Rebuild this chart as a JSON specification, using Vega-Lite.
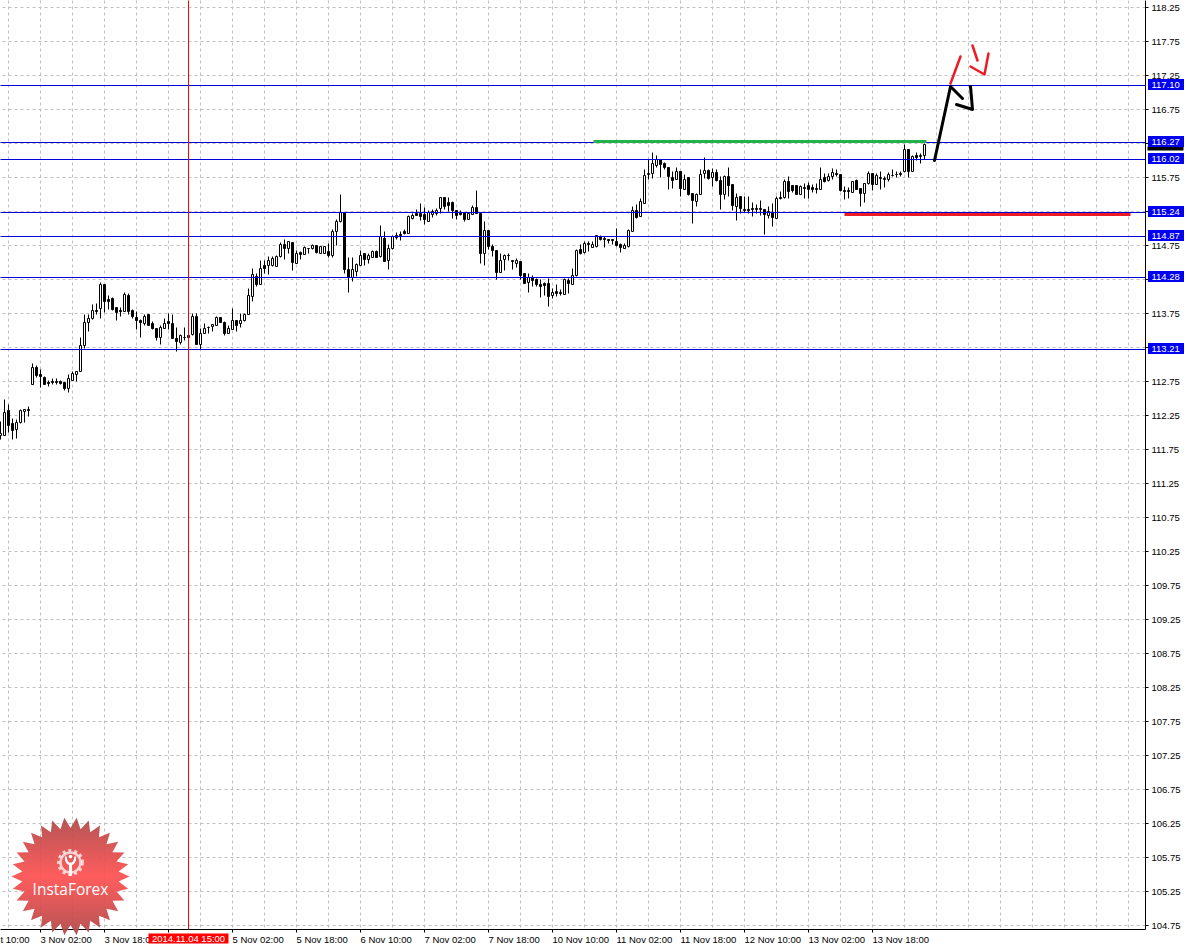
{"$schema":"https://vega.github.io/schema/vega-lite/v6.json","width":1145,"height":929,"autosize":{"type":"none"},"padding":{"left":0.5,"top":0.5,"right":41.5,"bottom":17.5},"background":"white","config":{"view":{"stroke":null}},
"datasets":{
"candles":[
{"bar":0,"open":111.95,"high":112.16,"low":111.89,"close":111.98},
{"bar":1,"open":111.96,"high":112.49,"low":111.95,"close":112.3},
{"bar":2,"open":112.32,"high":112.41,"low":112.0,"close":112.1},
{"bar":3,"open":112.13,"high":112.2,"low":111.89,"close":112.03},
{"bar":4,"open":112.05,"high":112.185,"low":111.915,"close":112.15},
{"bar":5,"open":112.15,"high":112.34,"low":112.13,"close":112.33},
{"bar":6,"open":112.31,"high":112.34,"low":112.15,"close":112.34},
{"bar":7,"open":112.34,"high":112.38,"low":112.23,"close":112.33},
{"bar":8,"open":112.7,"high":113.01,"low":112.7,"close":112.96},
{"bar":9,"open":112.96,"high":112.98,"low":112.81,"close":112.84},
{"bar":10,"open":112.85,"high":112.93,"low":112.66,"close":112.82},
{"bar":11,"open":112.81,"high":112.82,"low":112.7,"close":112.71},
{"bar":12,"open":112.74,"high":112.77,"low":112.675,"close":112.72},
{"bar":13,"open":112.75,"high":112.8,"low":112.7,"close":112.73},
{"bar":14,"open":112.75,"high":112.79,"low":112.7,"close":112.74},
{"bar":15,"open":112.75,"high":112.77,"low":112.7,"close":112.72},
{"bar":16,"open":112.74,"high":112.74,"low":112.62,"close":112.64},
{"bar":17,"open":112.65,"high":112.86,"low":112.59,"close":112.79},
{"bar":18,"open":112.76,"high":112.9,"low":112.76,"close":112.87},
{"bar":19,"open":112.86,"high":112.9,"low":112.75,"close":112.9},
{"bar":20,"open":112.9,"high":113.4,"low":112.9,"close":113.28},
{"bar":21,"open":113.28,"high":113.73,"low":113.23,"close":113.62},
{"bar":22,"open":113.62,"high":113.74,"low":113.48,"close":113.68},
{"bar":23,"open":113.675,"high":113.875,"low":113.655,"close":113.8},
{"bar":24,"open":113.79,"high":113.9,"low":113.73,"close":113.78},
{"bar":25,"open":113.82,"high":114.21,"low":113.68,"close":114.18},
{"bar":26,"open":114.18,"high":114.18,"low":113.76,"close":113.925},
{"bar":27,"open":113.95,"high":114.01,"low":113.81,"close":113.93},
{"bar":28,"open":113.965,"high":113.99,"low":113.8,"close":113.81},
{"bar":29,"open":113.84,"high":113.84,"low":113.645,"close":113.76},
{"bar":30,"open":113.79,"high":113.84,"low":113.7,"close":113.78},
{"bar":31,"open":113.78,"high":114.06,"low":113.78,"close":114.03},
{"bar":32,"open":114.02,"high":114.05,"low":113.74,"close":113.78},
{"bar":33,"open":113.79,"high":113.81,"low":113.68,"close":113.7},
{"bar":34,"open":113.69,"high":113.78,"low":113.52,"close":113.645},
{"bar":35,"open":113.65,"high":113.665,"low":113.4,"close":113.62},
{"bar":36,"open":113.61,"high":113.73,"low":113.58,"close":113.71},
{"bar":37,"open":113.73,"high":113.73,"low":113.58,"close":113.58},
{"bar":38,"open":113.6,"high":113.63,"low":113.51,"close":113.53},
{"bar":39,"open":113.53,"high":113.53,"low":113.36,"close":113.39},
{"bar":40,"open":113.395,"high":113.57,"low":113.29,"close":113.55},
{"bar":41,"open":113.53,"high":113.68,"low":113.53,"close":113.6},
{"bar":42,"open":113.625,"high":113.75,"low":113.51,"close":113.605},
{"bar":43,"open":113.605,"high":113.73,"low":113.38,"close":113.38},
{"bar":44,"open":113.375,"high":113.55,"low":113.19,"close":113.34},
{"bar":45,"open":113.32,"high":113.435,"low":113.3,"close":113.42},
{"bar":46,"open":113.395,"high":113.54,"low":113.36,"close":113.39},
{"bar":47,"open":113.43,"high":113.43,"low":113.39,"close":113.39},
{"bar":48,"open":113.435,"high":113.75,"low":113.42,"close":113.71},
{"bar":49,"open":113.7,"high":113.75,"low":113.29,"close":113.3},
{"bar":50,"open":113.29,"high":113.53,"low":113.22,"close":113.46},
{"bar":51,"open":113.455,"high":113.61,"low":113.455,"close":113.53},
{"bar":52,"open":113.545,"high":113.56,"low":113.45,"close":113.55},
{"bar":53,"open":113.56,"high":113.59,"low":113.48,"close":113.59},
{"bar":54,"open":113.58,"high":113.7,"low":113.57,"close":113.695},
{"bar":55,"open":113.685,"high":113.685,"low":113.615,"close":113.615},
{"bar":56,"open":113.615,"high":113.63,"low":113.43,"close":113.46},
{"bar":57,"open":113.45,"high":113.58,"low":113.45,"close":113.53},
{"bar":58,"open":113.52,"high":113.82,"low":113.51,"close":113.645},
{"bar":59,"open":113.65,"high":113.65,"low":113.48,"close":113.58},
{"bar":60,"open":113.6,"high":113.75,"low":113.55,"close":113.65},
{"bar":61,"open":113.645,"high":113.75,"low":113.63,"close":113.73},
{"bar":62,"open":113.74,"high":114.12,"low":113.73,"close":114.02},
{"bar":63,"open":114.0,"high":114.41,"low":113.93,"close":114.32},
{"bar":64,"open":114.3,"high":114.34,"low":114.15,"close":114.17},
{"bar":65,"open":114.18,"high":114.535,"low":114.18,"close":114.41},
{"bar":66,"open":114.45,"high":114.535,"low":114.34,"close":114.41},
{"bar":67,"open":114.45,"high":114.585,"low":114.325,"close":114.535},
{"bar":68,"open":114.45,"high":114.585,"low":114.44,"close":114.56},
{"bar":69,"open":114.44,"high":114.6,"low":114.44,"close":114.585},
{"bar":70,"open":114.585,"high":114.8,"low":114.58,"close":114.77},
{"bar":71,"open":114.76,"high":114.84,"low":114.55,"close":114.71},
{"bar":72,"open":114.7,"high":114.815,"low":114.63,"close":114.81},
{"bar":73,"open":114.8,"high":114.8,"low":114.38,"close":114.5},
{"bar":74,"open":114.49,"high":114.68,"low":114.48,"close":114.625},
{"bar":75,"open":114.645,"high":114.66,"low":114.54,"close":114.615},
{"bar":76,"open":114.615,"high":114.73,"low":114.615,"close":114.715},
{"bar":77,"open":114.705,"high":114.71,"low":114.625,"close":114.7},
{"bar":78,"open":114.705,"high":114.76,"low":114.695,"close":114.75},
{"bar":79,"open":114.75,"high":114.75,"low":114.635,"close":114.645},
{"bar":80,"open":114.635,"high":114.74,"low":114.625,"close":114.73},
{"bar":81,"open":114.635,"high":114.74,"low":114.63,"close":114.735},
{"bar":82,"open":114.655,"high":114.78,"low":114.575,"close":114.605},
{"bar":83,"open":114.6,"high":114.98,"low":114.58,"close":114.95},
{"bar":84,"open":114.955,"high":115.135,"low":114.745,"close":115.1},
{"bar":85,"open":115.1,"high":115.5,"low":115.09,"close":115.24},
{"bar":86,"open":115.24,"high":115.24,"low":114.34,"close":114.39},
{"bar":87,"open":114.39,"high":114.58,"low":114.06,"close":114.28},
{"bar":88,"open":114.28,"high":114.58,"low":114.22,"close":114.39},
{"bar":89,"open":114.365,"high":114.49,"low":114.3,"close":114.465},
{"bar":90,"open":114.455,"high":114.68,"low":114.45,"close":114.61},
{"bar":91,"open":114.625,"high":114.625,"low":114.45,"close":114.55},
{"bar":92,"open":114.54,"high":114.635,"low":114.49,"close":114.6},
{"bar":93,"open":114.58,"high":114.675,"low":114.575,"close":114.655},
{"bar":94,"open":114.655,"high":114.675,"low":114.575,"close":114.575},
{"bar":95,"open":114.585,"high":115.04,"low":114.575,"close":114.875},
{"bar":96,"open":114.86,"high":114.955,"low":114.52,"close":114.52},
{"bar":97,"open":114.53,"high":114.76,"low":114.39,"close":114.71},
{"bar":98,"open":114.7,"high":114.9,"low":114.695,"close":114.88},
{"bar":99,"open":114.89,"high":114.94,"low":114.84,"close":114.87},
{"bar":100,"open":114.91,"high":114.95,"low":114.83,"close":114.89},
{"bar":101,"open":114.955,"high":114.98,"low":114.905,"close":114.925},
{"bar":102,"open":114.92,"high":115.185,"low":114.92,"close":115.17},
{"bar":103,"open":115.14,"high":115.22,"low":115.125,"close":115.185},
{"bar":104,"open":115.215,"high":115.28,"low":115.185,"close":115.195},
{"bar":105,"open":115.215,"high":115.37,"low":115.115,"close":115.175},
{"bar":106,"open":115.205,"high":115.31,"low":115.065,"close":115.125},
{"bar":107,"open":115.11,"high":115.27,"low":115.1,"close":115.23},
{"bar":108,"open":115.205,"high":115.28,"low":115.155,"close":115.245},
{"bar":109,"open":115.225,"high":115.295,"low":115.185,"close":115.27},
{"bar":110,"open":115.29,"high":115.46,"low":115.225,"close":115.45},
{"bar":111,"open":115.46,"high":115.46,"low":115.28,"close":115.33},
{"bar":112,"open":115.375,"high":115.46,"low":115.25,"close":115.34},
{"bar":113,"open":115.38,"high":115.395,"low":115.15,"close":115.26},
{"bar":114,"open":115.26,"high":115.27,"low":115.125,"close":115.195},
{"bar":115,"open":115.24,"high":115.26,"low":115.185,"close":115.2},
{"bar":116,"open":115.23,"high":115.24,"low":115.11,"close":115.135},
{"bar":117,"open":115.125,"high":115.225,"low":115.125,"close":115.215},
{"bar":118,"open":115.205,"high":115.345,"low":115.2,"close":115.31},
{"bar":119,"open":115.31,"high":115.565,"low":115.22,"close":115.225},
{"bar":120,"open":115.22,"high":115.22,"low":114.49,"close":114.625},
{"bar":121,"open":114.625,"high":115.1,"low":114.46,"close":114.965},
{"bar":122,"open":114.965,"high":114.965,"low":114.685,"close":114.73},
{"bar":123,"open":114.73,"high":114.76,"low":114.585,"close":114.675},
{"bar":124,"open":114.67,"high":114.67,"low":114.245,"close":114.36},
{"bar":125,"open":114.35,"high":114.635,"low":114.35,"close":114.535},
{"bar":126,"open":114.55,"high":114.615,"low":114.38,"close":114.605},
{"bar":127,"open":114.6,"high":114.625,"low":114.535,"close":114.605},
{"bar":128,"open":114.525,"high":114.535,"low":114.4,"close":114.51},
{"bar":129,"open":114.49,"high":114.56,"low":114.43,"close":114.535},
{"bar":130,"open":114.52,"high":114.52,"low":114.245,"close":114.315},
{"bar":131,"open":114.34,"high":114.34,"low":114.185,"close":114.195},
{"bar":132,"open":114.205,"high":114.34,"low":114.055,"close":114.28},
{"bar":133,"open":114.28,"high":114.315,"low":114.145,"close":114.235},
{"bar":134,"open":114.25,"high":114.27,"low":114.145,"close":114.17},
{"bar":135,"open":114.17,"high":114.245,"low":113.99,"close":114.145},
{"bar":136,"open":114.185,"high":114.205,"low":114.02,"close":114.155},
{"bar":137,"open":114.185,"high":114.27,"low":113.86,"close":114.0},
{"bar":138,"open":114.01,"high":114.12,"low":113.975,"close":114.06},
{"bar":139,"open":114.08,"high":114.17,"low":114.0,"close":114.045},
{"bar":140,"open":114.065,"high":114.1,"low":114.01,"close":114.045},
{"bar":141,"open":114.025,"high":114.27,"low":114.025,"close":114.245},
{"bar":142,"open":114.235,"high":114.27,"low":114.05,"close":114.195},
{"bar":143,"open":114.175,"high":114.415,"low":114.17,"close":114.31},
{"bar":144,"open":114.315,"high":114.685,"low":114.29,"close":114.67},
{"bar":145,"open":114.685,"high":114.76,"low":114.615,"close":114.63},
{"bar":146,"open":114.64,"high":114.81,"low":114.63,"close":114.785},
{"bar":147,"open":114.775,"high":114.81,"low":114.66,"close":114.76},
{"bar":148,"open":114.725,"high":114.81,"low":114.725,"close":114.76},
{"bar":149,"open":114.735,"high":114.9,"low":114.725,"close":114.9},
{"bar":150,"open":114.88,"high":114.9,"low":114.825,"close":114.835},
{"bar":151,"open":114.86,"high":114.875,"low":114.725,"close":114.835},
{"bar":152,"open":114.84,"high":114.845,"low":114.775,"close":114.83},
{"bar":153,"open":114.835,"high":114.835,"low":114.76,"close":114.83},
{"bar":154,"open":114.815,"high":115.005,"low":114.735,"close":114.755},
{"bar":155,"open":114.76,"high":114.785,"low":114.64,"close":114.72},
{"bar":156,"open":114.705,"high":114.775,"low":114.705,"close":114.755},
{"bar":157,"open":114.73,"high":114.99,"low":114.725,"close":114.975},
{"bar":158,"open":114.955,"high":115.324,"low":114.95,"close":115.27},
{"bar":159,"open":115.26,"high":115.35,"low":115.15,"close":115.16},
{"bar":160,"open":115.17,"high":115.445,"low":115.17,"close":115.39},
{"bar":161,"open":115.37,"high":115.865,"low":115.365,"close":115.785},
{"bar":162,"open":115.8,"high":116.02,"low":115.715,"close":115.805},
{"bar":163,"open":115.81,"high":116.12,"low":115.74,"close":115.95},
{"bar":164,"open":115.93,"high":116.07,"low":115.9,"close":116.01},
{"bar":165,"open":116.01,"high":116.02,"low":115.755,"close":115.94},
{"bar":166,"open":115.96,"high":115.97,"low":115.87,"close":115.9},
{"bar":167,"open":115.89,"high":115.9,"low":115.58,"close":115.765},
{"bar":168,"open":115.755,"high":115.84,"low":115.595,"close":115.705},
{"bar":169,"open":115.72,"high":115.89,"low":115.716,"close":115.835},
{"bar":170,"open":115.845,"high":115.845,"low":115.47,"close":115.595},
{"bar":171,"open":115.58,"high":115.79,"low":115.57,"close":115.725},
{"bar":172,"open":115.75,"high":115.75,"low":115.48,"close":115.495},
{"bar":173,"open":115.52,"high":115.52,"low":115.08,"close":115.41},
{"bar":174,"open":115.4,"high":115.52,"low":115.325,"close":115.495},
{"bar":175,"open":115.505,"high":115.865,"low":115.495,"close":115.8},
{"bar":176,"open":115.815,"high":116.04,"low":115.74,"close":115.85},
{"bar":177,"open":115.85,"high":115.865,"low":115.715,"close":115.74},
{"bar":178,"open":115.75,"high":115.885,"low":115.62,"close":115.83},
{"bar":179,"open":115.83,"high":115.87,"low":115.69,"close":115.705},
{"bar":180,"open":115.7,"high":115.765,"low":115.275,"close":115.495},
{"bar":181,"open":115.495,"high":115.775,"low":115.43,"close":115.765},
{"bar":182,"open":115.76,"high":115.9,"low":115.47,"close":115.63},
{"bar":183,"open":115.645,"high":115.645,"low":115.265,"close":115.335},
{"bar":184,"open":115.325,"high":115.52,"low":115.12,"close":115.45},
{"bar":185,"open":115.465,"high":115.465,"low":115.215,"close":115.3},
{"bar":186,"open":115.285,"high":115.47,"low":115.235,"close":115.27},
{"bar":187,"open":115.285,"high":115.47,"low":115.215,"close":115.265},
{"bar":188,"open":115.295,"high":115.383,"low":115.18,"close":115.285},
{"bar":189,"open":115.3,"high":115.35,"low":115.215,"close":115.275},
{"bar":190,"open":115.3,"high":115.41,"low":115.19,"close":115.285},
{"bar":191,"open":115.285,"high":115.285,"low":114.91,"close":115.21},
{"bar":192,"open":115.19,"high":115.32,"low":115.14,"close":115.245},
{"bar":193,"open":115.235,"high":115.37,"low":115.03,"close":115.16},
{"bar":194,"open":115.145,"high":115.47,"low":115.14,"close":115.445},
{"bar":195,"open":115.455,"high":115.55,"low":115.43,"close":115.44},
{"bar":196,"open":115.455,"high":115.715,"low":115.445,"close":115.69},
{"bar":197,"open":115.685,"high":115.765,"low":115.445,"close":115.545},
{"bar":198,"open":115.625,"high":115.625,"low":115.535,"close":115.56},
{"bar":199,"open":115.625,"high":115.625,"low":115.495,"close":115.5},
{"bar":200,"open":115.505,"high":115.625,"low":115.5,"close":115.62},
{"bar":201,"open":115.61,"high":115.665,"low":115.445,"close":115.595},
{"bar":202,"open":115.625,"high":115.675,"low":115.445,"close":115.57},
{"bar":203,"open":115.6,"high":115.645,"low":115.53,"close":115.58},
{"bar":204,"open":115.595,"high":115.665,"low":115.52,"close":115.58},
{"bar":205,"open":115.58,"high":115.89,"low":115.57,"close":115.725},
{"bar":206,"open":115.745,"high":115.805,"low":115.675,"close":115.685},
{"bar":207,"open":115.705,"high":115.805,"low":115.69,"close":115.76},
{"bar":208,"open":115.76,"high":115.885,"low":115.715,"close":115.825},
{"bar":209,"open":115.815,"high":115.87,"low":115.765,"close":115.8},
{"bar":210,"open":115.79,"high":115.79,"low":115.545,"close":115.56},
{"bar":211,"open":115.555,"high":115.62,"low":115.43,"close":115.545},
{"bar":212,"open":115.555,"high":115.61,"low":115.445,"close":115.54},
{"bar":213,"open":115.53,"high":115.69,"low":115.53,"close":115.69},
{"bar":214,"open":115.7,"high":115.716,"low":115.57,"close":115.58},
{"bar":215,"open":115.59,"high":115.59,"low":115.325,"close":115.51},
{"bar":216,"open":115.51,"high":115.667,"low":115.383,"close":115.657},
{"bar":217,"open":115.657,"high":115.84,"low":115.65,"close":115.815},
{"bar":218,"open":115.805,"high":115.805,"low":115.555,"close":115.64},
{"bar":219,"open":115.64,"high":115.815,"low":115.64,"close":115.775},
{"bar":220,"open":115.755,"high":115.84,"low":115.58,"close":115.73},
{"bar":221,"open":115.74,"high":115.765,"low":115.61,"close":115.725},
{"bar":222,"open":115.715,"high":115.82,"low":115.69,"close":115.8},
{"bar":223,"open":115.78,"high":115.865,"low":115.765,"close":115.785},
{"bar":224,"open":115.79,"high":115.84,"low":115.755,"close":115.795},
{"bar":225,"open":115.805,"high":115.84,"low":115.765,"close":115.795},
{"bar":226,"open":115.84,"high":116.23,"low":115.83,"close":116.16},
{"bar":227,"open":116.16,"high":116.16,"low":115.755,"close":115.84},
{"bar":228,"open":115.84,"high":116.07,"low":115.84,"close":116.06},
{"bar":229,"open":116.07,"high":116.12,"low":116.0,"close":116.05},
{"bar":230,"open":116.065,"high":116.1,"low":115.96,"close":116.07},
{"bar":231,"open":116.08,"high":116.255,"low":116.02,"close":116.24}
],
"levels":[{"price":117.1,"label":"117.10"},{"price":116.27,"label":"116.27"},{"price":116.02,"label":"116.02"},{"price":115.24,"label":"115.24"},{"price":114.88,"label":"114.87"},{"price":114.28,"label":"114.28"},{"price":113.215,"label":"113.21"}],
"blackPath":[
{"path":"a","seq":1,"bar":233.45,"price":116.007},{"path":"a","seq":2,"bar":237.6,"price":117.094},{"path":"a","seq":3,"bar":240.45,"price":116.913},
{"path":"b","seq":1,"bar":242.55,"price":117.09},{"path":"b","seq":2,"bar":242.95,"price":116.756},{"path":"b","seq":3,"bar":239.05,"price":116.83}],
"redPath":[
{"path":"a","seq":1,"bar":237.6,"price":117.133},{"path":"a","seq":2,"bar":240.05,"price":117.535},
{"path":"b","seq":1,"bar":242.9,"price":117.696},{"path":"b","seq":2,"bar":244.2,"price":117.465},
{"path":"c","seq":1,"bar":242.55,"price":117.388},{"path":"c","seq":2,"bar":245.9,"price":117.27},{"path":"c","seq":3,"bar":246.9,"price":117.574}],
"logo":[{"bar":17.5,"price":105.47,"name":"InstaForex"}],
"gear":[{"bar":17.4,"price":105.68}]
},
"layer":[
{"data":{"name":"candles"},"mark":{"type":"rule","color":"black","strokeWidth":1},"encoding":{
"x":{"field":"bar","type":"quantitative","title":null,"scale":{"domain":[0,286.25],"round":true,"nice":false,"zero":false,"padding":0},
"axis":{"orient":"bottom","translate":0,"title":null,"tickCount":200,"values":[0,2,10,18,26,34,42,50,58,66,74,82,90,98,106,114,122,130,138,146,154,162,170,178,186,194,202,210,218,226,234,242,250,258,266,274,282],
"labelExpr":"{'0':'t 10:00','10':'3 Nov 02:00','26':'3 Nov 18:00','58':'5 Nov 02:00','74':'5 Nov 18:00','90':'6 Nov 10:00','106':'7 Nov 02:00','122':'7 Nov 18:00','138':'10 Nov 10:00','154':'11 Nov 02:00','170':'11 Nov 18:00','186':'12 Nov 10:00','202':'13 Nov 02:00','218':'13 Nov 18:00'}[''+datum.value] || ''",
"labelOverlap":false,"labelBound":false,"labelFlush":false,"labelAlign":"left","labelBaseline":"top","labelPadding":2,"labelFont":"Liberation Sans","labelFontSize":9.5,"labelColor":"black","tickSize":3,"tickColor":"black",
"tickOpacity":{"condition":{"test":"datum.value>0 && datum.value<=218 && (datum.value-10)%16==0","value":1},"value":0},
"domainColor":"black","domainWidth":1,"grid":true,"gridColor":"#c0c0c0","gridDash":[3,3],"gridWidth":1,
"gridOpacity":{"condition":{"test":"datum.value>0","value":1},"value":0}}},
"y":{"field":"low","type":"quantitative","title":null,"scale":{"domain":[104.6912,118.3529],"round":true,"nice":false,"zero":false,"padding":0},
"axis":{"orient":"right","translate":0,"title":null,"tickCount":200,"values":[104.75,105.25,105.75,106.25,106.75,107.25,107.75,108.25,108.75,109.25,109.75,110.25,110.75,111.25,111.75,112.25,112.75,113.25,113.75,114.25,114.75,115.25,115.75,116.25,116.75,117.25,117.75,118.25],
"format":".2f","labelExpr":"indexof(['113.25','114.25','115.25','116.25'],datum.label)>=0?'':datum.label","labelOverlap":false,"labelBound":false,"labelPadding":3,"labelFont":"Liberation Sans","labelFontSize":9.5,"labelColor":"black","tickSize":3,"tickColor":"black","domainColor":"black","domainWidth":1,"grid":true,"gridColor":"#c0c0c0","gridDash":[3,3],"gridWidth":1}},
"y2":{"field":"high"}}},
{"data":{"name":"candles"},"mark":{"type":"bar","size":2,"stroke":"black","strokeWidth":1},"encoding":{"x":{"field":"bar","type":"quantitative"},"y":{"field":"open","type":"quantitative"},"y2":{"field":"close"},"fill":{"condition":{"test":"datum.close>=datum.open","value":"white"},"value":"black"}}},
{"data":{"name":"levels"},"mark":{"type":"rule","color":"#0000d8","strokeWidth":1},"encoding":{"y":{"field":"price","type":"quantitative"}}},
{"data":{"values":[{"bar":47}]},"mark":{"type":"rule","stroke":"#ff0000","color":"#ff0000","strokeWidth":1},"encoding":{"x":{"field":"bar","type":"quantitative"}}},
{"data":{"values":[{"bar":148.25,"end":231.5,"price":116.275}]},"mark":{"type":"rule","color":"#22b14c","strokeWidth":3},"encoding":{"x":{"field":"bar","type":"quantitative"},"x2":{"field":"end"},"y":{"field":"price","type":"quantitative"}}},
{"data":{"values":[{"bar":211,"end":282.5,"price":115.21}]},"mark":{"type":"rule","color":"#ed1c24","strokeWidth":3},"encoding":{"x":{"field":"bar","type":"quantitative"},"x2":{"field":"end"},"y":{"field":"price","type":"quantitative"}}},
{"data":{"name":"blackPath"},"mark":{"type":"line","color":"black","strokeWidth":3,"strokeCap":"round","strokeJoin":"round"},"encoding":{"x":{"field":"bar","type":"quantitative"},"y":{"field":"price","type":"quantitative"},"detail":{"field":"path"},"order":{"field":"seq"}}},
{"data":{"name":"redPath"},"mark":{"type":"line","color":"#ed1c24","strokeWidth":2.5,"strokeCap":"round","strokeJoin":"round"},"encoding":{"x":{"field":"bar","type":"quantitative"},"y":{"field":"price","type":"quantitative"},"detail":{"field":"path"},"order":{"field":"seq"}}},
{"data":{"values":[{"bar":37.05,"end":56.9,"top":104.632,"bottom":104.482}]},"mark":{"type":"rect","color":"#ff0000"},"encoding":{"x":{"field":"bar","type":"quantitative"},"x2":{"field":"end"},"y":{"field":"top","type":"quantitative"},"y2":{"field":"bottom"}}},
{"data":{"values":[{"bar":47,"price":104.555,"text":"2014.11.04 15:00"}]},"mark":{"type":"text","color":"white","font":"Liberation Sans","fontSize":9.5,"align":"center","baseline":"middle"},"encoding":{"x":{"field":"bar","type":"quantitative"},"y":{"field":"price","type":"quantitative"},"text":{"field":"text"}}},
{"data":{"values":[{"bar":286.85,"end":295.85,"top":116.206,"bottom":116.147}]},"mark":{"type":"rect","color":"black"},"encoding":{"x":{"field":"bar","type":"quantitative"},"x2":{"field":"end"},"y":{"field":"top","type":"quantitative"},"y2":{"field":"bottom"}}},
{"data":{"name":"levels"},"mark":{"type":"rect","color":"#0000f0","width":36,"height":11,"yOffset":-1,"xOffset":0.5},"encoding":{"x":{"datum":291.25},"y":{"field":"price","type":"quantitative"}}},
{"data":{"name":"levels"},"mark":{"type":"text","color":"white","font":"Liberation Sans","fontSize":9.5,"align":"left","baseline":"middle","dy":-1},"encoding":{"x":{"datum":287.75},"y":{"field":"price","type":"quantitative"},"text":{"field":"label"}}},
{"data":{"name":"logo"},"mark":{"type":"point","filled":true,"opacity":0.93,"strokeWidth":0,"size":13924,"shape":"M1,0L.8155,.0857L.9781,.2079L.7799,.2534L.9135,.4067L.7101,.41L.809,.5878L.6093,.5487L.6691,.7431L.482,.6634L.5,.866L.3335,.7491L.309,.9511L.1705,.802L.1045,.9945L0,.82L-.1045,.9945L-.1705,.802L-.309,.9511L-.3335,.7491L-.5,.866L-.482,.6634L-.6691,.7431L-.6093,.5487L-.809,.5878L-.7101,.41L-.9135,.4067L-.7799,.2534L-.9781,.2079L-.8155,.0857L-1,0L-.8155,-.0857L-.9781,-.2079L-.7799,-.2534L-.9135,-.4067L-.7101,-.41L-.809,-.5878L-.6093,-.5487L-.6691,-.7431L-.482,-.6634L-.5,-.866L-.3335,-.7491L-.309,-.9511L-.1705,-.802L-.1045,-.9945L0,-.82L.1045,-.9945L.1705,-.802L.309,-.9511L.3335,-.7491L.5,-.866L.482,-.6634L.6691,-.7431L.6093,-.5487L.809,-.5878L.7101,-.41L.9135,-.4067L.7799,-.2534L.9781,-.2079L.8155,-.0857Z","fill":{"gradient":"linear","x1":0,"y1":0,"x2":0,"y2":1,"stops":[{"offset":0,"color":"#b04848"},{"offset":0.5,"color":"#ff5050"},{"offset":1,"color":"#b04848"}]}},"encoding":{"x":{"field":"bar","type":"quantitative"},"y":{"field":"price","type":"quantitative"}}},
{"data":{"name":"logo"},"mark":{"type":"text","color":"white","font":"Open Sans","fontSize":15.5,"align":"center","baseline":"middle","dy":13},"encoding":{"x":{"field":"bar","type":"quantitative"},"y":{"field":"price","type":"quantitative"},"text":{"field":"name"}}},
{"data":{"name":"gear"},"mark":{"type":"point","shape":"circle","filled":false,"stroke":"white","strokeWidth":2.5,"size":400},"encoding":{"x":{"field":"bar","type":"quantitative"},"y":{"field":"price","type":"quantitative"}}},
{"data":{"name":"gear"},"mark":{"type":"point","shape":"circle","filled":false,"stroke":"white","strokeWidth":3,"size":576,"strokeDash":[3,3]},"encoding":{"x":{"field":"bar","type":"quantitative"},"y":{"field":"price","type":"quantitative"}}},
{"data":{"name":"gear"},"mark":{"type":"point","filled":true,"color":"white","fill":"white","strokeWidth":0,"opacity":1,"size":576,"shape":"M-.15,-.5a.15,.15 0 1,0 .3,0a.15,.15 0 1,0 -.3,0ZM-.48,-.5L-.32,-.5Q-.28,-.1 -.1,0L.1,0Q.28,-.1 .32,-.5L.48,-.5Q.48,.1 .13,.2L.13,1.1L-.13,1.1L-.13,.2Q-.48,.1 -.48,-.5Z"},"encoding":{"x":{"field":"bar","type":"quantitative"},"y":{"field":"price","type":"quantitative"}}}
]}
